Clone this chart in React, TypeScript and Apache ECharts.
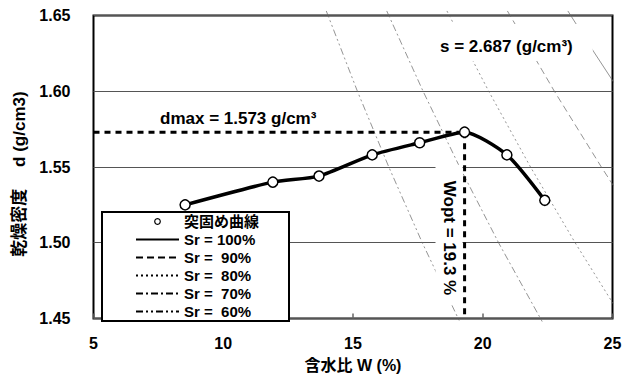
import React, { useEffect, useRef } from 'react';
import * as echarts from 'echarts';

// Compaction test points (water content W %, dry density g/cm3)
const compactW = [8.53, 11.91, 13.69, 15.74, 17.57, 19.3, 20.93, 22.39];
const compactRho = [1.525, 1.540, 1.544, 1.558, 1.566, 1.573, 1.558, 1.528];

// Saturation curves: [W, rho_d]
const sr100 = [[23.28, 1.653], [24.28, 1.626], [25.35, 1.598]];
const sr90 = [[20.95, 1.653], [22.76, 1.600], [24.57, 1.550], [25.25, 1.532]];
const sr80 = [[18.62, 1.653], [20.23, 1.600], [21.84, 1.550], [23.56, 1.500], [25.2, 1.455]];
const sr70 = [[16.30, 1.653], [17.70, 1.600], [19.11, 1.550], [20.61, 1.500], [22.29, 1.448]];
const sr60 = [[13.97, 1.653], [15.17, 1.600], [16.38, 1.550], [17.67, 1.500], [19.11, 1.448]];

const rhoDmax = 1.573;
const wOpt = 19.3;
const xRange = [5, 25];
const yRange = [1.45, 1.65];

const legendNames = ['突固め曲線', 'Sr = 100%', 'Sr =  90%', 'Sr =  80%', 'Sr =  70%', 'Sr =  60%'];

const FONT = 'Arial, "Liberation Sans", "Noto Sans CJK JP", sans-serif';

export default function App() {
  const ref = useRef<HTMLDivElement>(null);
  useEffect(() => {
    if (!ref.current) return;
    const chart = echarts.init(ref.current, undefined, { renderer: 'svg' });
    const srLine = (name: string, data: number[][], type: any) => ({
      name,
      type: 'line',
      data,
      symbol: 'none',
      clip: false,
      silent: true,
      z: 2,
      lineStyle: { color: '#666', width: 0.7, type },
    });
    const srLegend = (name: string) => ({ name, itemStyle: { opacity: 0 } });
    chart.setOption({
      animation: false,
      textStyle: { fontFamily: FONT },
      grid: {
        left: 93.5,
        right: 15.5,
        top: 15.5,
        bottom: 61.5,
        show: true,
        borderColor: '#000',
        borderWidth: 2,
        backgroundColor: 'transparent',
      },
      xAxis: {
        type: 'value',
        min: xRange[0],
        max: xRange[1],
        interval: 5,
        name: '含水比 W (%)',
        nameLocation: 'middle',
        nameGap: 39,
        nameTextStyle: { fontSize: 16, fontWeight: 'bold', color: '#000', fontFamily: FONT },
        axisLine: { show: false },
        axisTick: { show: true, inside: true, length: 5, lineStyle: { color: '#666', width: 1.5 } },
        splitLine: { show: false },
        axisLabel: { fontSize: 16, fontWeight: 'bold', color: '#000', margin: 17, fontFamily: FONT },
      },
      yAxis: {
        type: 'value',
        min: yRange[0],
        max: yRange[1],
        interval: 0.05,
        name: '乾燥密度　 d (g/cm3)',
        nameLocation: 'middle',
        nameGap: 64,
        nameTextStyle: { fontSize: 17, fontWeight: 'bold', color: '#000', fontFamily: FONT, padding: [0, 14, 0, 0] },
        axisLine: { show: false },
        axisTick: { show: false },
        splitLine: { show: true, lineStyle: { color: '#555', width: 1 } },
        axisLabel: {
          fontSize: 16,
          fontWeight: 'bold',
          color: '#000',
          margin: 23,
          fontFamily: FONT,
          formatter: (v: number) => v.toFixed(2),
        },
      },
      legend: {
        orient: 'vertical',
        left: 102,
        top: 212,
        padding: [2, 30, 2, 33],
        itemGap: 3,
        itemWidth: 43,
        itemHeight: 7,
        backgroundColor: '#fff',
        borderColor: '#000',
        borderWidth: 2,
        borderRadius: 0,
        textStyle: { fontSize: 15, fontWeight: 'bold', color: '#000', lineHeight: 14, fontFamily: FONT },
        lineStyle: { color: '#000', width: 2 },
        data: [
          { name: legendNames[0], lineStyle: { opacity: 0 }, itemStyle: { color: '#fff', borderColor: '#000', borderWidth: 1.2 } },
          srLegend(legendNames[1]),
          srLegend(legendNames[2]),
          srLegend(legendNames[3]),
          srLegend(legendNames[4]),
          srLegend(legendNames[5]),
        ],
      },
      series: [
        srLine(legendNames[1], sr100, 'solid'),
        srLine(legendNames[2], sr90, [7, 4]),
        srLine(legendNames[3], sr80, [2, 3]),
        srLine(legendNames[4], sr70, [7, 3, 2, 3]),
        srLine(legendNames[5], sr60, [7, 3, 2, 3, 2, 3]),
        {
          name: 'dmax',
          type: 'line',
          data: [[xRange[0], rhoDmax], [wOpt, rhoDmax]],
          symbol: 'none',
          silent: true,
          z: 3,
          lineStyle: { color: '#000', width: 3, type: [6, 5] },
        },
        {
          name: 'wopt',
          type: 'line',
          data: [[wOpt, rhoDmax], [wOpt, yRange[0]]],
          symbol: 'none',
          silent: true,
          z: 3,
          lineStyle: { color: '#000', width: 3, type: [6, 5] },
        },
        {
          name: legendNames[0],
          type: 'line',
          data: compactW.map((w, i) => [w, compactRho[i]]),
          smooth: 0.22,
          symbol: 'circle',
          symbolSize: 10,
          z: 5,
          itemStyle: { color: '#fff', borderColor: '#000', borderWidth: 1.5 },
          lineStyle: { color: '#000', width: 3.5 },
        },
      ],
      graphic: [
        {
          type: 'text',
          left: 160,
          top: 110,
          z: 10,
          style: { text: 'dmax = 1.573 g/cm³', fontSize: 17, fontWeight: 'bold', fill: '#000', fontFamily: FONT },
        },
        {
          type: 'text',
          left: 435,
          top: 24,
          z: 10,
          style: {
            text: 's = 2.687 (g/cm³)',
            fontSize: 17,
            fontWeight: 'bold',
            fill: '#000',
            fontFamily: FONT,
            backgroundColor: '#fff',
            padding: [14, 20, 6, 5],
          },
        },
        {
          type: 'text',
          x: 449,
          y: 235,
          rotation: -Math.PI / 2,
          z: 10,
          style: {
            text: 'Wopt = 19.3 %',
            fontSize: 17,
            fontWeight: 'bold',
            fill: '#000',
            fontFamily: FONT,
            align: 'center',
            verticalAlign: 'middle',
            backgroundColor: '#fff',
            padding: [5, 10, 5, 16],
          },
        },
      ],
    });
    return () => chart.dispose();
  }, []);
  return (
    <div
      ref={ref}
      style={{ position: 'absolute', left: 0, top: 0, width: 628, height: 380, background: '#fff' }}
    />
  );
}
